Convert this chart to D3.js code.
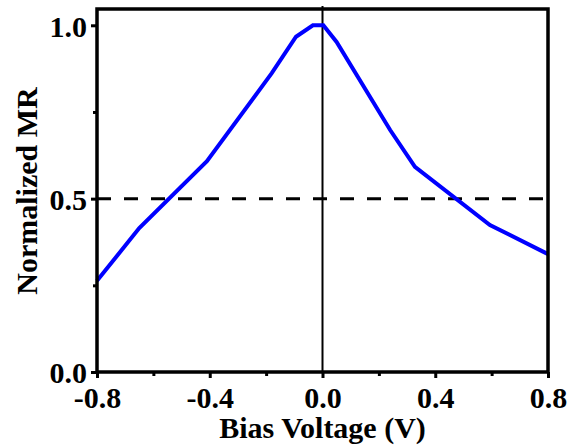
<!DOCTYPE html>
<html>
<head>
<meta charset="utf-8">
<script src="https://cdn.jsdelivr.net/npm/d3@7"></script>
<style>
  html, body { margin: 0; padding: 0; background: #fff; }
  svg { display: block; }
  text { font-family: "Liberation Serif", "Times New Roman", serif; font-weight: bold; }
</style>
</head>
<body>
<svg id="chart" width="569" height="446"></svg>
<script>
// Bias voltage (V) and normalized magnetoresistance
const voltage = [-0.80, -0.65, -0.41, -0.18, -0.094, -0.034, 0.003, 0.05, 0.24, 0.328, 0.594, 0.80];
const mr      = [0.263, 0.415, 0.608, 0.862, 0.967, 1.0, 1.0, 0.952, 0.698, 0.592, 0.424, 0.34];

const xMajorTicks = [-0.8, -0.4, 0.0, 0.4, 0.8];
const xMinorTicks = [-0.6, -0.2, 0.2, 0.6];
const yMajorTicks = [0.0, 0.5, 1.0];
const yMinorTicks = [0.25, 0.75];
const halfLevel = [0.5];

const xTitle = "Bias Voltage (V)";
const yTitle = "Normalized MR";

const svg = d3.select("#chart");
const margin = { left: 97, top: 9, right: 21, bottom: 74 };
const W = 569 - margin.left - margin.right;
const H = 446 - margin.top - margin.bottom;

const x = d3.scaleLinear().domain([-0.8, 0.8]).range([0, W]);
const y = d3.scaleLinear().domain([0, 1.047]).range([H, 0]);

const g = svg.append("g").attr("transform", `translate(${margin.left},${margin.top})`);

// zero-bias reference line
g.append("line")
  .attr("x1", x(0)).attr("x2", x(0))
  .attr("y1", y(1.056)).attr("y2", y(0))
  .attr("stroke", "#000").attr("stroke-width", 2);

// half-maximum dashed line
g.selectAll(".half").data(halfLevel).join("line")
  .attr("class", "half")
  .attr("x1", x(-0.8)).attr("x2", x(0.8))
  .attr("y1", d => y(d)).attr("y2", d => y(d))
  .attr("stroke", "#000").attr("stroke-width", 3)
  .attr("stroke-dasharray", "14 13");

// data curve
const line = d3.line().x((d, i) => x(voltage[i])).y(d => y(d));
g.append("path")
  .datum(mr)
  .attr("d", line)
  .attr("fill", "none")
  .attr("stroke", "#0000ff")
  .attr("stroke-width", 4)
  .attr("stroke-linejoin", "miter");

// axes (plain hyphen for negative labels)
const fmt = v => d3.format(".1f")(v).replace("\u2212", "-");
const xAxis = g.append("g").attr("transform", `translate(0,${H})`)
  .call(d3.axisBottom(x).tickValues(xMajorTicks).tickFormat(fmt).tickSize(6).tickPadding(9));
const xMinor = g.append("g").attr("transform", `translate(0,${H})`)
  .call(d3.axisBottom(x).tickValues(xMinorTicks).tickFormat("").tickSize(4));
const yAxis = g.append("g")
  .call(d3.axisLeft(y).tickValues(yMajorTicks).tickFormat(fmt).tickSize(6).tickPadding(4));
const yMinor = g.append("g")
  .call(d3.axisLeft(y).tickValues(yMinorTicks).tickFormat("").tickSize(4));

[xAxis, xMinor, yAxis, yMinor].forEach(a => {
  a.select(".domain").remove();
  a.selectAll(".tick line").attr("stroke", "#000").attr("stroke-width", 3);
  a.selectAll(".tick text")
    .attr("fill", "#000")
    .style("font-size", "30px")
    .style("font-family", "'Liberation Serif', 'Times New Roman', serif")
    .style("font-weight", "bold");
});
yAxis.selectAll(".tick text").attr("dy", "0.36em");

// frame
g.append("rect")
  .attr("x", 0).attr("y", 0).attr("width", W).attr("height", H)
  .attr("fill", "none").attr("stroke", "#000").attr("stroke-width", 3.5);

// titles
svg.append("text")
  .attr("x", margin.left + W / 2).attr("y", 438)
  .attr("text-anchor", "middle")
  .style("font-size", "30px")
  .text(xTitle);

svg.append("text")
  .attr("transform", `translate(37,${margin.top + 182}) rotate(-90)`)
  .attr("text-anchor", "middle")
  .style("font-size", "30px")
  .text(yTitle);
</script>
</body>
</html>
